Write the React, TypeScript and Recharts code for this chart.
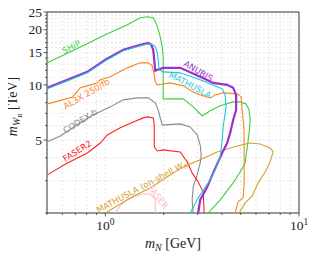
import React from 'react';
import { LineChart, Line, XAxis, YAxis, CartesianGrid, ReferenceDot, ReferenceArea } from 'recharts';

type P = [number, number];

const SHIP: P[] = [[0.502,13.2],[0.7,15.6],[1.0,18.77],[1.3,21.3],[1.515,23.24],[1.646,23.53],[1.768,23.24],[1.853,21.0],[1.921,18.3],[1.967,16.14],[1.99,14.24],[1.99,8.39],[2.525,8.39],[2.842,7.59],[3.164,6.77],[3.479,7.22],[3.918,7.69],[4.571,8.08],[4.968,8.08],[5.33,7.88],[5.527,7.31],[5.595,6.44],[5.527,5.47],[5.272,3.75],[4.968,3.35],[4.571,2.92],[3.918,2.36],[3.397,2.0]];
const ANUBIS: P[] = [[0.502,9.64],[0.637,10.66],[0.808,11.78],[1.0,13.71],[1.238,15.54],[1.515,16.55],[1.666,16.97],[1.727,16.55],[1.768,15.54],[1.789,13.71],[1.81,11.93],[1.853,12.08],[1.99,12.39],[2.436,12.39],[3.09,11.07],[3.605,10.26],[4.257,10.01],[4.571,9.64],[4.737,8.82],[4.737,7.31],[4.571,6.44],[4.412,5.47],[4.257,4.82],[4.012,4.25],[3.605,3.31],[3.357,2.77],[3.09,2.36],[3.016,2.0]];
const MATHUSLA: P[] = [[0.502,9.52],[0.637,10.52],[0.808,11.64],[1.0,13.54],[1.238,15.35],[1.515,16.34],[1.666,16.76],[1.768,16.55],[1.81,16.14],[1.853,15.16],[1.875,13.71],[1.897,12.08],[1.99,11.78],[2.436,11.64],[3.09,10.66],[3.78,9.76],[4.012,9.52],[4.157,8.82],[4.207,7.59],[4.108,6.44],[4.06,5.9],[4.012,5.01],[3.918,4.04],[3.692,3.43],[3.479,3.03],[3.201,2.67],[2.981,2.36],[2.743,2.0]];
const AL3X: P[] = [[0.502,7.88],[0.6,8.29],[0.676,8.6],[0.743,9.64],[0.808,9.88],[0.909,10.26],[0.942,10.66],[1.061,11.07],[1.298,12.39],[1.515,13.2],[1.666,13.2],[1.747,12.71],[1.789,11.35],[1.81,10.39],[1.853,10.01],[2.163,10.26],[2.525,9.88],[2.842,9.16],[3.09,8.82],[3.479,8.5],[3.692,8.82],[4.06,9.05],[4.794,8.94],[5.027,8.6],[5.087,7.31],[5.148,6.44],[5.209,5.68],[5.209,2.92],[5.148,2.42],[4.851,2.3],[4.682,2.0]];
const CODEXB: P[] = [[0.502,4.89],[0.586,5.27],[0.743,6.21],[0.867,6.86],[1.061,7.59],[1.238,8.29],[1.462,8.5],[1.666,8.5],[1.81,7.98],[1.875,7.31],[1.921,6.61],[1.967,6.05],[2.039,6.05],[2.436,6.13],[2.743,5.9],[2.981,5.33],[3.09,4.7],[3.127,4.15],[3.09,3.75],[2.981,3.23],[2.842,2.77],[2.808,2.36],[2.842,2.0]];
const FASER2: P[] = [[0.502,3.23],[0.637,3.75],[0.808,4.25],[0.942,4.82],[1.024,5.33],[1.195,5.83],[1.394,6.28],[1.57,6.61],[1.646,6.69],[1.768,6.61],[1.789,6.05],[1.789,4.59],[1.853,4.36],[1.99,4.42],[2.436,4.31],[2.647,3.8],[2.808,3.31],[3.016,2.95],[3.201,2.61],[3.24,2.0]];
const MATHUSLA_ONSHELL: P[] = [[1.0,2.0],[1.394,2.47],[1.706,2.74],[2.088,3.15],[2.525,3.57],[3.09,3.9],[3.78,4.31],[4.794,4.64],[5.595,4.82],[6.3,4.76],[7.095,4.53],[7.352,4.31],[7.095,3.8],[6.686,3.35],[6.151,2.92],[5.728,2.47],[5.272,2.27],[4.909,2.0]];
const FASER: P[] = [[1.126,2.0],[1.195,2.21],[1.298,2.36],[1.428,2.47],[1.57,2.54],[1.706,2.54],[1.81,2.39],[1.81,2.0]];

const X_TICKS = [0.5, 0.6, 0.7, 0.8, 0.9, 1, 2, 3, 4, 5, 6, 7, 8, 9, 10];
const X_MAJOR: Record<number, string> = { 1: '0', 10: '1' };
const Y_TICKS = [2,3,4,5,6,7,8,9,10,11,12,13,14,15,16,17,18,19,20,21,22,23,24,25];
const Y_LABELS = [5, 10, 15, 20, 25];

const LABELS: { text: string; color: string; x: number; y: number; angle: number }[] = [
  { text: 'SHiP', color: '#3fcf3f', x: 0.668, y: 16.1, angle: -27 },
  { text: 'ANUBIS', color: '#9b30d0', x: 3.02, y: 11.9, angle: 31 },
  { text: 'MATHUSLA', color: '#1ec8d4', x: 2.74, y: 10.0, angle: 28 },
  { text: 'AL3X 250/fb', color: '#f5891f', x: 0.8, y: 8.94, angle: -30 },
  { text: 'CODEX-b', color: '#8a8a8a', x: 0.743, y: 6.36, angle: -32 },
  { text: 'FASER2', color: '#ff2020', x: 0.717, y: 4.36, angle: -32 },
  { text: 'FASER', color: '#ffb6c1', x: 1.875, y: 2.44, angle: 52 },
];

const toData = (pts: P[]) => pts.map(([x, y]) => ({ x, y }));

const SERIF = 'Liberation Serif, DejaVu Serif, serif';
const SANS = 'DejaVu Sans, sans-serif';

const XTick = (props: any) => {
  const { x, y, payload } = props;
  const sup = X_MAJOR[payload.value];
  const len = sup !== undefined ? 3.5 : 2;
  return (
    <g>
      <line x1={x} y1={y} x2={x} y2={y + len} stroke="#333" strokeWidth={0.8} />
      {sup !== undefined && (
        <text x={x} y={y + 17} textAnchor="middle" fontFamily={SERIF} fontSize={13.5} fill="#222">
          10<tspan dy={-5.5} fontSize={9.5}>{sup}</tspan>
        </text>
      )}
    </g>
  );
};

const YTick = (props: any) => {
  const { x, y, payload } = props;
  const major = Y_LABELS.includes(payload.value);
  return (
    <g>
      <line x1={x} y1={y} x2={x - (major ? 3.5 : 2)} y2={y} stroke="#333" strokeWidth={0.8} />
      {major && (
        <text x={x - 5} y={y} dy="0.35em" textAnchor="end" fontFamily={SERIF} fontSize={13.5} fill="#222">
          {payload.value}
        </text>
      )}
    </g>
  );
};

const makeShape = (text: string, color: string, angle: number) => (p: any) => {
  const { cx, cy } = p;
  return (
    <text x={cx} y={cy} dy="0.35em" textAnchor="middle" transform={`rotate(${angle} ${cx} ${cy})`}
      fill={color} fontSize={8.5} fontFamily={SANS}>{text}</text>
  );
};

const onShellShape = (p: any) => {
  const { cx, cy } = p;
  return (
    <text x={cx} y={cy} dy="0.35em" textAnchor="middle" transform={`rotate(-28 ${cx} ${cy})`}
      fill="#d4a02a" fontSize={8.5} fontFamily={SANS}>
      MATHUSLA (on-shell <tspan fontStyle="italic">W</tspan><tspan dy={2} fontSize={6} fontStyle="italic">R</tspan><tspan dy={-2}>)</tspan>
    </text>
  );
};

export default function App() {
  return (
    <div style={{ width: 316, height: 260, margin: -8 }}>
      <LineChart width={316} height={260} margin={{ top: 12, right: 17, bottom: 17, left: 0 }}>
        <CartesianGrid stroke="#d8d8d8" strokeDasharray="2 2" strokeWidth={0.6} />
        <XAxis dataKey="x" type="number" scale="log" domain={[0.5, 10]} allowDataOverflow ticks={X_TICKS}
          interval={0} tickSize={0} tickMargin={0} tickLine={false} axisLine={false} height={30} tick={<XTick />} />
        <YAxis dataKey="y" type="number" scale="log" domain={[2, 25]} allowDataOverflow ticks={Y_TICKS}
          interval={0} tickSize={0} tickMargin={0} tickLine={false} axisLine={false} width={47} tick={<YTick />} />
        <Line data={toData(SHIP)} dataKey="y" stroke="#3fcf3f" strokeWidth={1.1} dot={false} isAnimationActive={false} />
        <Line data={toData(AL3X)} dataKey="y" stroke="#f5891f" strokeWidth={1.1} dot={false} isAnimationActive={false} />
        <Line data={toData(CODEXB)} dataKey="y" stroke="#8a8a8a" strokeWidth={1.1} dot={false} isAnimationActive={false} />
        <Line data={toData(FASER2)} dataKey="y" stroke="#ff2020" strokeWidth={1.1} dot={false} isAnimationActive={false} />
        <Line data={toData(FASER)} dataKey="y" stroke="#ffb6c1" strokeWidth={1.1} dot={false} isAnimationActive={false} />
        <Line data={toData(MATHUSLA_ONSHELL)} dataKey="y" stroke="#d4a02a" strokeWidth={1.1} dot={false} isAnimationActive={false} />
        <Line data={toData(ANUBIS)} dataKey="y" stroke="#9b30d0" strokeWidth={2.2} dot={false} isAnimationActive={false} />
        <Line data={toData(MATHUSLA)} dataKey="y" stroke="#1ec8d4" strokeWidth={1.1} dot={false} isAnimationActive={false} />
        <ReferenceArea x1={0.5} x2={10} y1={2} y2={25} fill="none" stroke="#222" strokeWidth={0.9} ifOverflow="visible" />
        {LABELS.map((l) => (
          <ReferenceDot key={l.text} x={l.x} y={l.y} r={1} ifOverflow="visible" shape={makeShape(l.text, l.color, l.angle)} />
        ))}
        <ReferenceDot x={1.57} y={2.81} r={1} ifOverflow="visible" shape={onShellShape} />
        <text x={17} y={106.5} transform="rotate(-90 17 106.5)" textAnchor="middle" fontFamily={SERIF} fontSize={14} fill="#222">
          <tspan fontStyle="italic">m</tspan><tspan fontStyle="italic" fontSize={10} dy={3}>W</tspan><tspan fontStyle="italic" fontSize={7} dy={1.5}>R</tspan><tspan dy={-4.5}> [TeV]</tspan>
        </text>
        <text x={173} y={248} textAnchor="middle" fontFamily={SERIF} fontSize={14} fill="#222">
          <tspan fontStyle="italic">m</tspan><tspan fontStyle="italic" fontSize={10} dy={3}>N</tspan><tspan dy={-3}> [GeV]</tspan>
        </text>
      </LineChart>
    </div>
  );
}
